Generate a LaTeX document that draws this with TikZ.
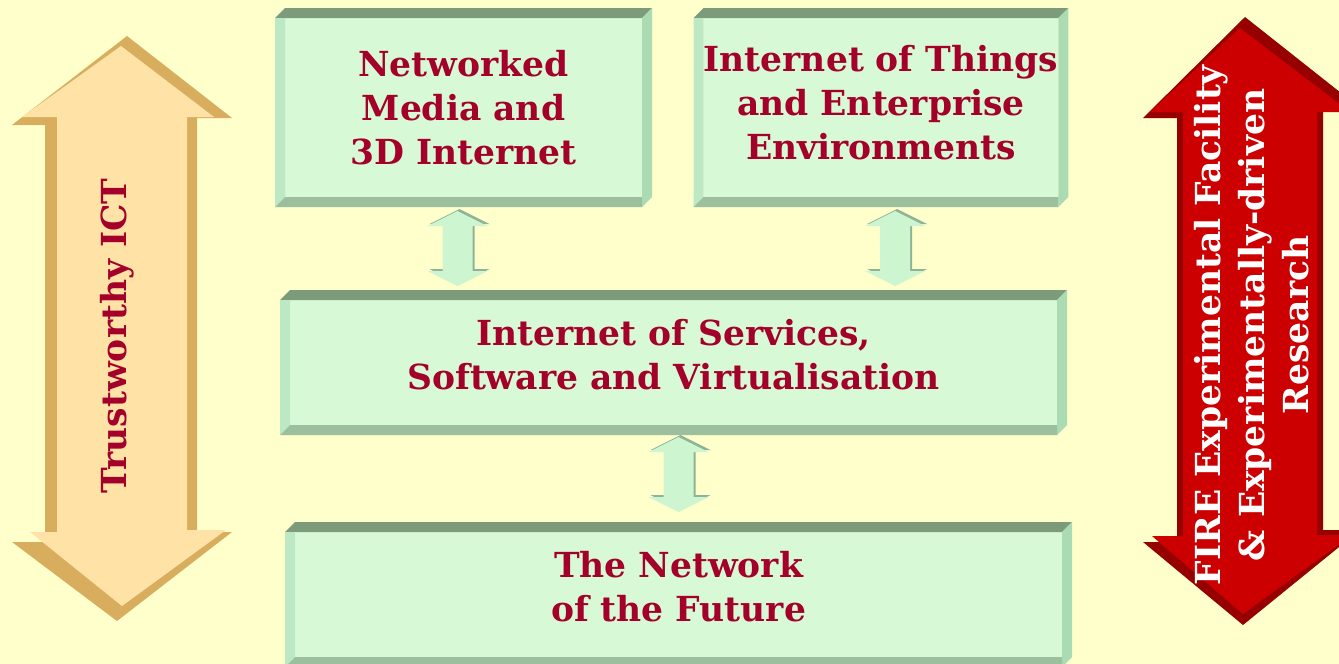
\documentclass[tikz,border=0pt]{standalone}
\usepackage{fontspec}
\setmainfont{DejaVu Serif}
\usetikzlibrary{calc}

\definecolor{paper}{HTML}{FFFFCC}
\definecolor{mint}{HTML}{D8F9D6}
\definecolor{minttop}{HTML}{7B9B7B}
\definecolor{mintside}{HTML}{ABDBB3}
\definecolor{mintleft}{HTML}{BCE8C3}
\definecolor{mintbase}{HTML}{9CBF9E}
\definecolor{linkface}{HTML}{CDF5CF}
\definecolor{linkedge}{HTML}{8FB395}
\definecolor{crimson}{HTML}{A3002A}
\definecolor{sand}{HTML}{FFE3A6}
\definecolor{sanddark}{HTML}{D8AE5E}
\definecolor{firered}{HTML}{CC0000}
\definecolor{firedark}{HTML}{960000}

% 3D frame round a panel node
\newcommand{\bevel}[1]{
  \fill[minttop] ($(#1.north west)+(-10,0)$) -- ($(#1.north west)+(0,-10)$) -- ($(#1.north east)+(10,-10)$) -- (#1.north east) -- cycle;
  \fill[mintside] (#1.north east) -- ($(#1.north east)+(10,-10)$) -- ($(#1.south east)+(10,0)$) -- ($(#1.south east)+(0,10)$) -- cycle;
  \fill[mintleft] ($(#1.north west)+(-10,0)$) -- (#1.north west) -- (#1.south west) -- ($(#1.south west)+(-10,10)$) -- cycle;
  \fill[mintbase] ($(#1.south west)+(-10,10)$) -- (#1.south west) -- (#1.south east) -- ($(#1.south east)+(0,10)$) -- cycle;
}

% double block arrow between two points
\newcommand{\linkarrow}[2]{
  \foreach \d/\col in {2/linkedge,0/linkface}{
    \fill[\col] ($(#1)+(\d,-\d)$) -- ($(#1)+(30+\d,15-\d)$) -- ($(#1)+(15+\d,15-\d)$) -- ($(#2)+(15+\d,-15-\d)$) -- ($(#2)+(30+\d,-15-\d)$)
      -- ($(#2)+(\d,-\d)$) -- ($(#2)+(-30+\d,-15-\d)$) -- ($(#2)+(-15+\d,-15-\d)$) -- ($(#1)+(-15+\d,15-\d)$) -- ($(#1)+(-30+\d,15-\d)$) -- cycle;
  }
}

\begin{document}
\begin{tikzpicture}[x=1pt, y=-1pt,
    panel/.style={rectangle, fill=mint, inner sep=0pt, outer sep=0pt, align=center, text=crimson,
      font=\bfseries\fontsize{34.5}{44}\selectfont},
    sidetext/.style={align=center, rotate=90, font=\bfseries\fontsize{34.5}{44}\selectfont}]
  \fill[paper] (0,0) rectangle (1339,664);
  \useasboundingbox (0,0) rectangle (1339,664);

  % panels
  \node[panel, minimum width=357, minimum height=179] (media) at (463.5,107.5) {Networked\\Media and\\3D Internet};
  \node[panel, minimum width=352, minimum height=179, text depth=10pt] (iot) at (881,107.5) {Internet of Things\\and Enterprise\\Environments};
  \node[panel, minimum width=767, minimum height=125, text depth=16pt] (ios) at (673.5,362.5) {Internet of Services,\\Software and Virtualisation};
  \node[panel, minimum width=767, minimum height=125, text depth=16pt] (nof) at (678.5,594.5) {The Network\\of the Future};
  \bevel{media}
  \bevel{iot}
  \bevel{ios}
  \bevel{nof}

  % links between panels
  \coordinate (a1) at ($(media.south)+(-6,14)$);
  \coordinate (b1) at ($(ios.north -| a1)+(0,-14)$);
  \coordinate (a2) at ($(iot.south)+(14,14)$);
  \coordinate (b2) at ($(ios.north -| a2)+(0,-14)$);
  \coordinate (a3) at ($(ios.south)+(5,12)$);
  \coordinate (b3) at ($(nof.north -| a3)+(0,-20)$);
  \linkarrow{a1}{b1}
  \linkarrow{a2}{b2}
  \linkarrow{a3}{b3}

  % side arrows
  \fill[sanddark] (127,36) -- (232,118) -- (197,118) -- (197,532) -- (232,532) -- (117,621) -- (12,542) -- (45,542) -- (45,125) -- (12,125) -- cycle;
  \fill[sand] (121,46) -- (214,117) -- (187,117) -- (187,530) -- (226,530) -- (122,606) -- (30,532) -- (57,532) -- (57,117) -- (22,117) -- cycle;
  \node[sidetext, text=crimson] (trust) at (117,336) {Trustworthy ICT};

  \fill[firedark] (1245,17) -- (1360,108) -- (1323,108) -- (1323,530) -- (1360,530) -- (1243,625) -- (1143,542) -- (1177,542) -- (1177,118) -- (1143,118) -- cycle;
  \fill[firered] (1240,28) -- (1350,112) -- (1317,112) -- (1317,535) -- (1352,535) -- (1243,614) -- (1152,536) -- (1183,536) -- (1183,112) -- (1150,112) -- cycle;
  \node[sidetext, text=white] (fire) at (1252,325) {FIRE Experimental Facility\\\& Experimentally-driven\\Research};
\end{tikzpicture}
\end{document}
